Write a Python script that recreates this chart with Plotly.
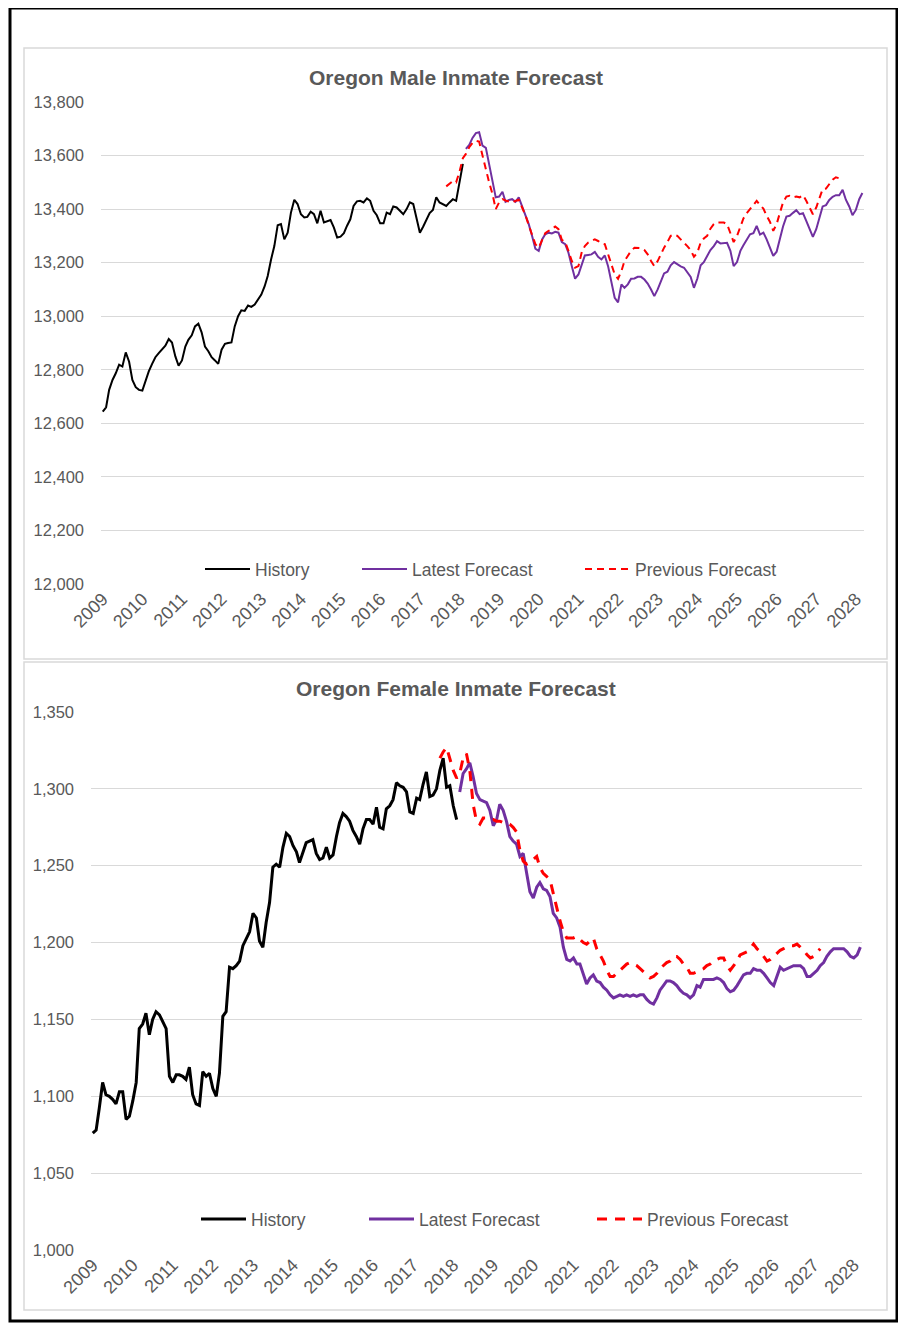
import pandas as pd
import plotly.graph_objects as go

# monthly index, Jan 2009 .. Mar 2028
months = pd.date_range("2009-01-01", periods=231, freq="MS")
years = pd.date_range("2009-01-01", "2028-01-01", freq="YS")
year_labels = [str(d.year) for d in years]

# Male inmates
male_hist = [
    12644, 12660, 12725, 12762, 12787, 12819, 12812, 12865, 12830, 12762,
    12735, 12725, 12722, 12762, 12794, 12822, 12847, 12862, 12877, 12890,
    12915, 12902, 12850, 12815, 12835, 12887, 12912, 12929, 12962, 12972,
    12940, 12887, 12869, 12847, 12835, 12822, 12875, 12897, 12900, 12902,
    12962, 13000, 13022, 13020, 13040, 13035, 13044, 13062, 13081, 13112,
    13150, 13212, 13262, 13340, 13344, 13287, 13312, 13387, 13435, 13419,
    13381, 13369, 13371, 13390, 13381, 13347, 13394, 13350, 13356, 13359,
    13331, 13294, 13297, 13310, 13337, 13362, 13412, 13429, 13431, 13425,
    13440, 13431, 13394, 13377, 13347, 13347, 13387, 13381, 13410, 13406,
    13394, 13381, 13400, 13425, 13419, 13369, 13312, 13335, 13356, 13385,
    13397, 13444, 13425, 13419, 13412, 13425, 13437, 13431, 13500, 13569,
]
male_latest = [
    13625, 13640, 13666, 13684, 13687, 13637, 13629, 13569, 13506, 13444,
    13447, 13465, 13427, 13434, 13437, 13427, 13444, 13410, 13375, 13344,
    13300, 13252, 13244, 13287, 13306, 13312, 13309, 13315, 13312, 13277,
    13269, 13237, 13187, 13140, 13156, 13190, 13227, 13229, 13231, 13240,
    13222, 13212, 13227, 13187, 13125, 13069, 13052, 13119, 13106, 13119,
    13140, 13141, 13147, 13147, 13137, 13122, 13100, 13075, 13100, 13131,
    13160, 13166, 13190, 13202, 13194, 13186, 13181, 13165, 13147, 13106,
    13140, 13190, 13202, 13225, 13247, 13262, 13280, 13272, 13272, 13274,
    13244, 13187, 13202, 13244, 13265, 13287, 13306, 13310, 13337, 13305,
    13312, 13287, 13256, 13225, 13241, 13294, 13335, 13372, 13375, 13386,
    13396, 13381, 13385, 13356, 13325, 13296, 13325, 13372, 13410, 13415,
    13434, 13446, 13452, 13452, 13472, 13435, 13410, 13377, 13397, 13437, 13460,
]
male_prev = [
    13485, 13495, 13505, 13500, 13540, 13590,
    13606, 13631, 13647, 13655, 13652, 13600, 13544, 13500, 13456, 13400,
    13425, 13437, 13432, 13427, 13425, 13431, 13435, 13406, 13377, 13340,
    13306, 13269, 13256, 13285, 13310, 13319, 13325, 13335, 13325, 13285,
    13277, 13244, 13206, 13181, 13187, 13240, 13262, 13275, 13281, 13287,
    13281, 13272, 13269, 13231, 13187, 13156, 13140, 13169, 13206, 13225,
    13244, 13256, 13256, 13254, 13247, 13231, 13206, 13187, 13206, 13235,
    13256, 13277, 13300, 13305, 13300, 13287, 13275, 13262, 13247, 13222,
    13237, 13275, 13290, 13300, 13327, 13344, 13350, 13350, 13350, 13344,
    13312, 13277, 13300, 13337, 13365, 13385, 13400, 13415, 13431, 13415,
    13402, 13375, 13352, 13319, 13344, 13387, 13425, 13447, 13450, 13444,
    13447, 13444, 13452, 13431, 13406, 13381, 13406, 13444, 13475, 13477,
    13494, 13510, 13519, 13515,
]

# Female inmates
female_hist = [
    1076, 1078, 1092, 1109, 1101, 1100, 1098, 1095, 1103, 1103,
    1085, 1087, 1097, 1109, 1144, 1147, 1154, 1140, 1150, 1155,
    1153, 1149, 1144, 1113, 1109, 1114, 1114, 1113, 1111, 1119,
    1101, 1095, 1094, 1116, 1113, 1115, 1105, 1100, 1115, 1152,
    1155, 1184, 1183, 1185, 1188, 1198, 1203, 1207, 1219, 1216,
    1201, 1197, 1213, 1226, 1249, 1251, 1249, 1262, 1271, 1269,
    1263, 1259, 1252, 1258, 1265, 1266, 1267, 1258, 1254, 1255,
    1262, 1255, 1257, 1269, 1278, 1284, 1282, 1279, 1273, 1269,
    1264, 1274, 1280, 1280, 1277, 1288, 1275, 1274, 1287, 1289,
    1293, 1304, 1302, 1301, 1298, 1285, 1284, 1294, 1293, 1303,
    1311, 1295, 1296, 1300, 1312, 1320, 1301, 1302, 1289, 1280,
]
female_latest = [
    1298, 1310, 1313, 1317, 1308, 1297, 1293, 1292, 1291, 1286,
    1276, 1280, 1290, 1286, 1279, 1269, 1266, 1264, 1256, 1258,
    1246, 1233, 1229, 1236, 1239, 1235, 1234, 1230, 1219, 1216,
    1210, 1197, 1189, 1188, 1190, 1186, 1186, 1180, 1173, 1177,
    1179, 1175, 1174, 1171, 1169, 1166, 1164, 1165, 1166, 1165,
    1166, 1165, 1166, 1165, 1166, 1166, 1163, 1161, 1160, 1164,
    1169, 1172, 1175, 1175, 1174, 1172, 1169, 1167, 1166, 1164,
    1166, 1172, 1171, 1176, 1176, 1176, 1176, 1177, 1176, 1174,
    1170, 1168, 1169, 1172, 1175, 1179, 1180, 1180, 1183, 1182,
    1182, 1180, 1177, 1174, 1172, 1179, 1184, 1182, 1183, 1184,
    1185, 1185, 1185, 1183, 1178, 1178, 1180, 1182, 1185, 1187,
    1191, 1194, 1196, 1196, 1196, 1196, 1194, 1191, 1190, 1192, 1197,
]
female_prev = [
    1320, 1324, 1327, 1320, 1312, 1307,
    1310, 1320, 1323, 1312, 1290, 1279, 1277, 1281, 1281, 1280,
    1280, 1279, 1279, 1278, 1278, 1277, 1275, 1272, 1260, 1253,
    1251, 1252, 1254, 1256, 1249, 1245, 1243, 1241, 1232, 1222,
    1214, 1207, 1203, 1203, 1203, 1204, 1202, 1200, 1199, 1201,
    1203, 1196, 1192, 1188, 1182, 1178, 1178, 1180, 1182, 1184,
    1186, 1187, 1186, 1185, 1183, 1181, 1179, 1177, 1178, 1180,
    1183, 1185, 1187, 1188, 1191, 1191, 1189, 1186, 1184, 1180,
    1180, 1181, 1182, 1183, 1185, 1186, 1188, 1189, 1190, 1190,
    1185, 1182, 1185, 1188, 1192, 1193, 1194, 1196, 1199, 1196,
    1194, 1191, 1188, 1189, 1191, 1193, 1195, 1196, 1197, 1198,
    1198, 1199, 1197, 1195, 1192, 1190, 1191, 1194, 1196,
]

W, H = 906, 1329
OFF = 8  # page body margin in the browser
FONT = "Liberation Sans, Arial, sans-serif"
GREY = "#595959"
PURPLE = "#7030A0"


def px(x, y):
    # page pixel -> paper fraction
    return (x - OFF) / W, 1 - (y - OFF) / H


fig = go.Figure()

hist_x = months[:110]
latest_x = months[110:]

# top chart
fig.add_trace(go.Scatter(x=hist_x, y=male_hist, name="History", mode="lines", showlegend=True,
                         line=dict(color="black", width=2), xaxis="x", yaxis="y", legend="legend"))
fig.add_trace(go.Scatter(x=latest_x, y=male_latest, name="Latest Forecast", mode="lines",
                         line=dict(color=PURPLE, width=2), xaxis="x", yaxis="y", legend="legend2"))
fig.add_trace(go.Scatter(x=months[104:104 + len(male_prev)], y=male_prev, name="Previous Forecast",
                         mode="lines", line=dict(color="red", width=2, dash="7px,5px"),
                         xaxis="x", yaxis="y", legend="legend3"))

# bottom chart
fig.add_trace(go.Scatter(x=hist_x, y=female_hist, name="History", mode="lines",
                         line=dict(color="black", width=3), xaxis="x2", yaxis="y2", legend="legend4"))
fig.add_trace(go.Scatter(x=latest_x, y=female_latest, name="Latest Forecast", mode="lines",
                         line=dict(color=PURPLE, width=3), xaxis="x2", yaxis="y2", legend="legend5"))
fig.add_trace(go.Scatter(x=months[104:104 + len(female_prev)], y=female_prev, name="Previous Forecast",
                         mode="lines", line=dict(color="red", width=3, dash="10px,8px"),
                         xaxis="x2", yaxis="y2", legend="legend6"))

xr = ["2008-12-16", "2028-03-16"]
xcommon = dict(range=xr, tickmode="array", tickvals=years, ticktext=year_labels, tickangle=-45,
               showgrid=False, zeroline=False, showline=False, ticks="", automargin=False,
               tickfont=dict(size=18, color=GREY, family=FONT))
ycommon = dict(showgrid=True, gridcolor="#d9d9d9", gridwidth=1, zeroline=False, showline=False,
               ticks="", tickformat=",", automargin=False,
               tickfont=dict(size=16.5, color=GREY, family=FONT))

tl, tt = px(101, 102)
tr, tb = px(864, 584)
bl, bt = px(91, 712)
br, bb = px(862, 1250)

fig.update_layout(
    width=W, height=H, autosize=False, showlegend=True,
    margin=dict(l=0, r=0, t=0, b=0, pad=0, autoexpand=False),
    paper_bgcolor="white", plot_bgcolor="white",
    font=dict(family=FONT, color=GREY),
    xaxis=dict(domain=[tl, tr], anchor="y", **xcommon),
    yaxis=dict(domain=[tb, tt], anchor="x", range=[12000, 13800], dtick=200,
               ticklabelstandoff=16, **ycommon),
    xaxis2=dict(domain=[bl, br], anchor="y2", **xcommon),
    yaxis2=dict(domain=[bb, bt], anchor="x2", range=[1000, 1350], dtick=50,
                ticklabelstandoff=16, **ycommon),
)

# one legend per entry, placed where the original puts them
legend_spots = [("legend", 200, 569), ("legend2", 357, 569), ("legend3", 580, 569),
                ("legend4", 196, 1219), ("legend5", 364, 1219), ("legend6", 592, 1219)]
for key, lx, ly in legend_spots:
    x, y = px(lx, ly)
    fig.update_layout({key: dict(x=x, y=y, xanchor="left", yanchor="middle", orientation="h",
                                 xref="paper", yref="paper", visible=True,
                                 bgcolor="rgba(0,0,0,0)", borderwidth=0, itemwidth=45,
                                 font=dict(size=17.5, color=GREY, family=FONT))})

# titles
for text, ty in [("Oregon Male Inmate Forecast", 78), ("Oregon Female Inmate Forecast", 688)]:
    x, y = px(456, ty)
    fig.add_annotation(text=text, x=x, y=y, xref="paper", yref="paper", showarrow=False,
                       xanchor="center", yanchor="middle",
                       font=dict(size=21, color=GREY, family=FONT, weight="bold"))

# chart frames
shapes = []
for (x0, y0, x1, y1) in [(24, 48, 887, 659), (24, 662, 887, 1310)]:
    a, b = px(x0, y0)
    c, d = px(x1, y1)
    shapes.append(dict(type="rect", xref="paper", yref="paper", x0=a, y0=d, x1=c, y1=b,
                       line=dict(color="#d9d9d9", width=1.5)))
a, b = px(10, 8)
c, d = px(897, 1321)
shapes.append(dict(type="rect", xref="paper", yref="paper", x0=a, y0=d, x1=c, y1=b,
                   line=dict(color="black", width=3)))
fig.update_layout(shapes=shapes)

fig.write_html("out.html")
